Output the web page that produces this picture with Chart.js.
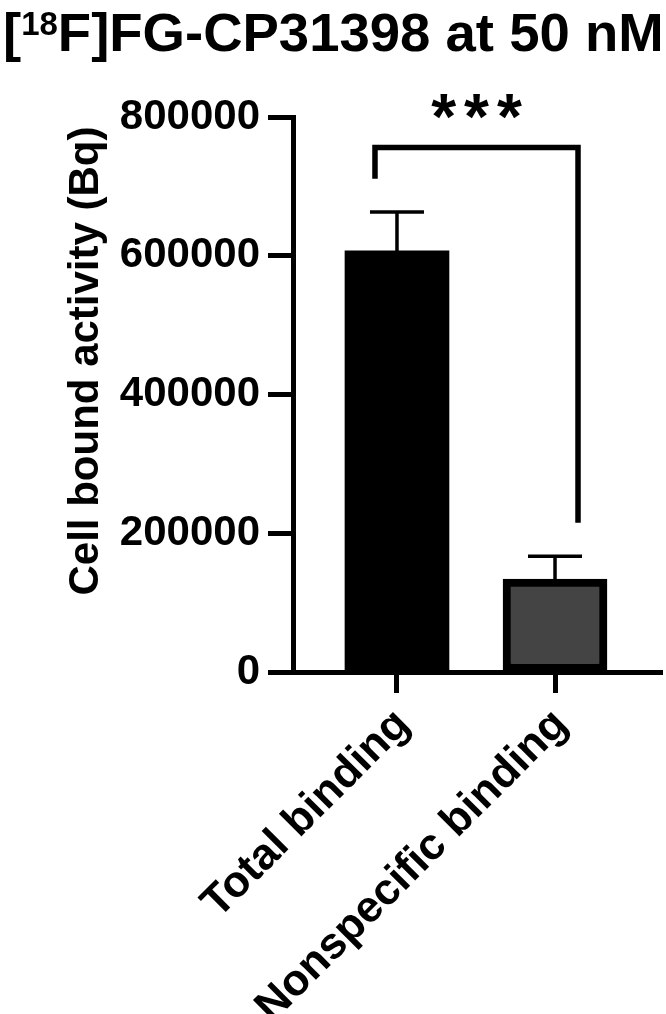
<!DOCTYPE html>
<html lang="en">
<head>
  <meta charset="UTF-8">
  <title>[18F]FG-CP31398 at 50 nM</title>
  <script src="https://cdn.jsdelivr.net/npm/chart.js"></script>
  <style>
    html, body { margin: 0; padding: 0; background: #fff; }
    canvas { display: block; }
  </style>
</head>
<body>
  <canvas id="bindingChart" width="666" height="1014"></canvas>

  <script>
    // values
    const categories = ['Total binding', 'Nonspecific binding'];
    const meanValues = [607000, 134000];
    const errorValues = [56000, 33000];
    const yTicks = [0, 200000, 400000, 600000, 800000];
    const sigLabel = '***';
    // bracket: left leg bottom, top bar, right leg bottom (in Bq)
    const bracketLevels = [711000, 756000, 215000];

    const FONT = '"Liberation Sans", Arial, sans-serif';

    const extrasPlugin = {
      id: 'extras',
      afterDraw(chart) {
        const ctx = chart.ctx;
        const xs = chart.scales.x;
        const ys = chart.scales.y;
        ctx.save();
        ctx.strokeStyle = '#000';
        ctx.fillStyle = '#000';

        // error bars (upper only)
        ctx.lineWidth = 3.5;
        meanValues.forEach((v, i) => {
          const x = xs.getPixelForValue(i + 1);
          const yTop = ys.getPixelForValue(v);
          const yErr = ys.getPixelForValue(v + errorValues[i]);
          ctx.beginPath();
          ctx.moveTo(x, yTop);
          ctx.lineTo(x, yErr);
          ctx.moveTo(x - 27, yErr);
          ctx.lineTo(x + 27, yErr);
          ctx.stroke();
        });

        // significance bracket
        const xl = xs.getPixelForValue(1) - 22;
        const xr = xs.getPixelForValue(2) + 23;
        const yl = ys.getPixelForValue(bracketLevels[0]);
        const yt = ys.getPixelForValue(bracketLevels[1]);
        const yr = ys.getPixelForValue(bracketLevels[2]);
        ctx.lineWidth = 5.5;
        ctx.lineJoin = 'miter';
        ctx.beginPath();
        ctx.moveTo(xl, yl);
        ctx.lineTo(xl, yt);
        ctx.lineTo(xr, yt);
        ctx.lineTo(xr, yr);
        ctx.stroke();

        ctx.font = 'bold 64px ' + FONT;
        ctx.textAlign = 'center';
        ctx.textBaseline = 'middle';
        ctx.letterSpacing = '8px';
        ctx.fillText(sigLabel, (xl + xr) / 2 + 4, yt - 26);
        ctx.letterSpacing = '0px';

        // title with superscript
        ctx.textAlign = 'left';
        ctx.textBaseline = 'alphabetic';
        let x = 3;
        const base = 51;
        ctx.font = 'bold 54.5px ' + FONT;
        ctx.fillText('[', x, base);
        x += ctx.measureText('[').width;
        ctx.font = 'bold 33px ' + FONT;
        ctx.fillText('18', x, base - 16);
        x += ctx.measureText('18').width;
        ctx.font = 'bold 54.5px ' + FONT;
        ctx.fillText('F]FG-CP31398 at 50 nM', x, base);

        // y axis title
        ctx.save();
        ctx.translate(86, 361);
        ctx.rotate(-Math.PI / 2);
        ctx.font = 'bold 42px ' + FONT;
        ctx.textAlign = 'center';
        ctx.textBaseline = 'middle';
        ctx.fillText('Cell bound activity (Bq)', 0, 0);
        ctx.restore();

        ctx.restore();
      }
    };

    const ctx = document.getElementById('bindingChart').getContext('2d');
    const bindingChart = new Chart(ctx, {
      type: 'bar',
      data: {
        datasets: [{
          data: meanValues.map((v, i) => ({ x: i + 1, y: v })),
          backgroundColor: ['#000000', '#444444'],
          borderColor: '#000000',
          borderWidth: [0, 8],
          borderSkipped: false,
          barThickness: 104
        }]
      },
      options: {
        responsive: false,
        animation: false,
        layout: { padding: { top: 117, left: 0, right: 4, bottom: 0 } },
        plugins: {
          legend: { display: false },
          tooltip: { enabled: false }
        },
        scales: {
          x: {
            type: 'linear',
            min: 0.342,
            max: 2.677,
            offset: false,
            afterBuildTicks: (scale) => {
              scale.ticks = categories.map((c, i) => ({ value: i + 1 }));
            },
            afterFit: (scale) => {
              scale.height = 342;
              scale.paddingLeft = 0;
              scale.paddingRight = 0;
            },
            border: { display: true, color: '#000', width: 5 },
            grid: {
              offset: false,
              drawOnChartArea: false,
              drawTicks: true,
              tickLength: 21,
              tickWidth: 5,
              tickColor: '#000'
            },
            ticks: {
              autoSkip: false,
              minRotation: 45,
              maxRotation: 45,
              padding: 6,
              labelOffset: 6,
              color: '#000',
              font: { family: FONT, size: 44, weight: 'bold' },
              callback: (v) => categories[v - 1]
            }
          },
          y: {
            min: 0,
            max: 800000,
            afterBuildTicks: (scale) => {
              scale.ticks = yTicks.map(v => ({ value: v }));
            },
            afterFit: (scale) => {
              scale.width = 293;
            },
            border: { display: true, color: '#000', width: 5 },
            grid: {
              drawOnChartArea: false,
              drawTicks: true,
              tickLength: 25,
              tickWidth: 5,
              tickColor: '#000'
            },
            ticks: {
              padding: 8,
              color: '#000',
              font: { family: FONT, size: 42, weight: 'bold' },
              callback: (v) => String(v)
            }
          }
        }
      },
      plugins: [extrasPlugin]
    });
  </script>
</body>
</html>
